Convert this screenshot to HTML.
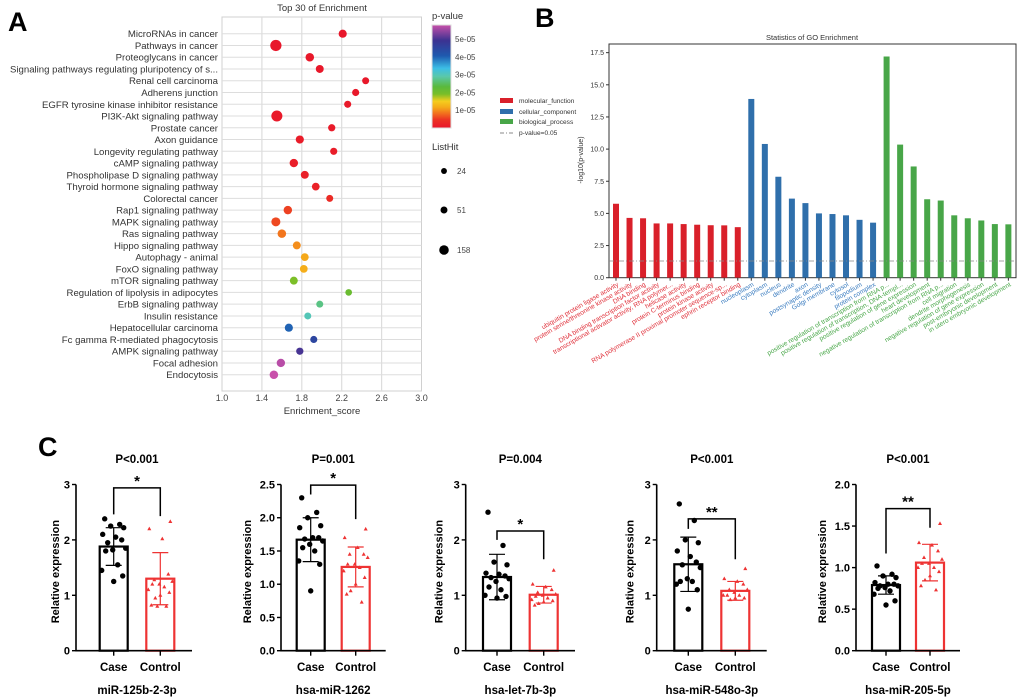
<!DOCTYPE html>
<html><head><meta charset="utf-8"><style>
html,body{margin:0;padding:0;background:#fff;}
svg{display:block;font-family:"Liberation Sans",Arial,sans-serif;}
</style></head><body>
<svg id="fig" width="1020" height="700" viewBox="0 0 1020 700" xmlns="http://www.w3.org/2000/svg">
<text x="8" y="31" font-size="27" font-weight="bold">A</text>
<text x="535" y="27" font-size="27" font-weight="bold">B</text>
<text x="38" y="456" font-size="27" font-weight="bold">C</text>
<g id="pa"></g>
<g id="pb"></g>
<g id="pc"></g>
</svg>
<script>
// ---------- Panel A data ----------
const keggTerms=["MicroRNAs in cancer","Pathways in cancer","Proteoglycans in cancer","Signaling pathways regulating pluripotency of s...","Renal cell carcinoma","Adherens junction","EGFR tyrosine kinase inhibitor resistance","PI3K-Akt signaling pathway","Prostate cancer","Axon guidance","Longevity regulating pathway","cAMP signaling pathway","Phospholipase D signaling pathway","Thyroid hormone signaling pathway","Colorectal cancer","Rap1 signaling pathway","MAPK signaling pathway","Ras signaling pathway","Hippo signaling pathway","Autophagy - animal","FoxO signaling pathway","mTOR signaling pathway","Regulation of lipolysis in adipocytes","ErbB signaling pathway","Insulin resistance","Hepatocellular carcinoma","Fc gamma R-mediated phagocytosis","AMPK signaling pathway","Focal adhesion","Endocytosis"];
const keggScore=[2.21,1.54,1.88,1.98,2.44,2.34,2.26,1.55,2.10,1.78,2.12,1.72,1.83,1.94,2.08,1.66,1.54,1.60,1.75,1.83,1.82,1.72,2.27,1.98,1.86,1.67,1.92,1.78,1.59,1.52];
const keggP=[0.1e-6,0.2e-6,0.3e-6,0.4e-6,0.3e-6,0.5e-6,0.6e-6,0.7e-6,0.8e-6,1.0e-6,1.2e-6,1.4e-6,1.6e-6,1.8e-6,3.5e-6,5.5e-6,6e-6,8.5e-6,10e-6,11.5e-6,12e-6,19e-6,21e-6,27e-6,30e-6,40e-6,45e-6,50e-6,57e-6,58e-6];
const keggHit=[50,158,60,45,25,28,27,150,30,50,28,58,45,40,25,58,75,60,45,42,40,45,20,25,25,50,27,30,55,60];
const pTicks=[1e-5,2e-5,3e-5,4e-5,5e-5];
const pTickLabels=["1e-05","2e-05","3e-05","4e-05","5e-05"];
const hitLegend=[24,51,158];
const scoreTicks=[1.0,1.4,1.8,2.2,2.6,3.0];
// ---------- Panel B data ----------
const goTerms=["ubiquitin protein ligase activity","protein serine/threonine kinase activity","DNA binding","DNA binding transcription factor activity","transcriptional activator activity, RNA polymer...","helicase activity","protein C-terminus binding","protein kinase activity","RNA polymerase II proximal promoter sequence-sp...","ephrin receptor binding","nucleoplasm","cytoplasm","nucleus","dendrite","axon","postsynaptic density","Golgi membrane","cytosol","filopodium","protein complex","positive regulation of transcription from RNA p...","positive regulation of transcription, DNA-templ...","positive regulation of gene expression","heart development","negative regulation of transcription from RNA p...","cell migration","dendrite morphogenesis","negative regulation of gene expression","post-embryonic development","in utero embryonic development"];
const goValues=[5.75,4.65,4.62,4.22,4.22,4.17,4.12,4.08,4.07,3.93,13.9,10.4,7.85,6.15,5.8,5.0,4.95,4.85,4.5,4.28,17.2,10.35,8.65,6.1,6.0,4.85,4.62,4.45,4.17,4.15];
const goCat=[0,0,0,0,0,0,0,0,0,0,1,1,1,1,1,1,1,1,1,1,2,2,2,2,2,2,2,2,2,2];
const goCatNames=["molecular_function","cellular_component","biological_process"];
const goTicks=[0,2.5,5,7.5,10,12.5,15,17.5];
const goThreshold=1.3;
// ---------- Panel C data ----------
const cGenes=["miR-125b-2-3p","hsa-miR-1262","hsa-let-7b-3p","hsa-miR-548o-3p","hsa-miR-205-5p"];
const cPlabels=["P\u003C0.001","P=0.001","P=0.004","P\u003C0.001","P\u003C0.001"];
const cStars=["*","*","*","**","**"];
const cYmax=[3,2.5,3,3,2];
const cTicks=[[0,1,2,3],[0,0.5,1.0,1.5,2.0,2.5],[0,1,2,3],[0,1,2,3],[0,0.5,1.0,1.5,2.0]];
const cTickLabels=[["0","1","2","3"],["0.0","0.5","1.0","1.5","2.0","2.5"],["0","1","2","3"],["0","1","2","3"],["0.0","0.5","1.0","1.5","2.0"]];
const caseMean=[1.88,1.67,1.33,1.56,0.79];
const caseSD=[0.34,0.33,0.41,0.49,0.11];
const ctrlMean=[1.30,1.26,1.01,1.08,1.06];
const ctrlSD=[0.47,0.30,0.15,0.17,0.22];
const bracketY=[2.94,2.49,2.16,2.38,1.71];
const legCase=[2.46,2.35,2.0,2.2,1.17];
const legCtrl=[2.43,1.98,1.65,1.65,1.48];
const casePts=[[2.38,2.28,2.25,2.22,2.1,2.05,2.0,1.95,1.85,1.82,1.8,1.55,1.45,1.35,1.25],
[2.3,2.08,2.0,1.88,1.85,1.7,1.7,1.68,1.65,1.6,1.55,1.5,1.35,1.3,0.9],
[2.5,1.9,1.6,1.55,1.4,1.38,1.35,1.32,1.3,1.25,1.15,1.1,1.0,0.98,0.95],
[2.65,2.35,2.0,1.95,1.8,1.7,1.6,1.55,1.5,1.3,1.25,1.25,1.2,1.1,0.75],
[1.02,0.92,0.9,0.88,0.82,0.8,0.8,0.78,0.78,0.76,0.75,0.72,0.68,0.6,0.55]];
const ctrlPts=[[2.33,2.2,2.02,1.38,1.28,1.25,1.2,1.2,1.15,1.1,1.05,1.0,0.95,0.82,0.8,0.8],
[1.83,1.7,1.55,1.45,1.45,1.4,1.3,1.3,1.25,1.2,1.1,1.0,0.9,0.85,0.73],
[1.45,1.2,1.15,1.1,1.05,1.02,1.0,0.98,0.95,0.92,0.9,0.88,0.85,0.82],
[1.48,1.3,1.25,1.2,1.1,1.1,1.05,1.0,1.0,1.0,0.95,0.95,0.92],
[1.53,1.3,1.27,1.2,1.12,1.1,1.05,1.05,1.0,1.0,0.95,0.9,0.85,0.78,0.73]];

const NS="http://www.w3.org/2000/svg";
function mk(parent,tag,attrs,text){const e=document.createElementNS(NS,tag);for(const k in attrs)e.setAttribute(k,attrs[k]);if(text!==undefined)e.textContent=text;parent.appendChild(e);return e;}

// ===== Panel A =====
(function(){
const g=document.getElementById('pa');
const x0=222,x1=421.5,yT=17,yB=391,r0=33.7,rs=11.76;
const xs=v=>x0+(v-1)*(x1-x0)/2;
const ys=i=>r0+i*rs;
const pmax=5.8e-5;
const stops=[[0,[232,22,43]],[0.08,[236,50,35]],[0.14,[242,110,30]],[0.2,[245,170,25]],[0.26,[245,205,30]],[0.33,[120,190,40]],[0.4,[90,185,60]],[0.5,[90,200,170]],[0.58,[60,190,230]],[0.7,[30,90,175]],[0.85,[60,50,145]],[1,[200,80,170]]];
function cmap(p){let t=Math.max(0,Math.min(1,p/pmax));for(let i=1;i<stops.length;i++){if(t<=stops[i][0]){const a=stops[i-1],b=stops[i];const f=(t-a[0])/(b[0]-a[0]);const c=a[1].map((v,k)=>Math.round(v+(b[1][k]-v)*f));return `rgb(${c[0]},${c[1]},${c[2]})`;}}return 'rgb(200,80,170)';}
const rad=h=>2.1+Math.sqrt(h)*0.28;
let e=mk(g,'rect',{x:x0,y:yT,width:x1-x0,height:yB-yT,fill:'#fff',stroke:'#d0d0d0','stroke-width':1});

scoreTicks.forEach(v=>{if(v>1&&v<3){const l=mk(g,'line',{x1:xs(v),x2:xs(v),y1:yT,y2:yB,stroke:'#dddddd','stroke-width':1.2});}
 const t=mk(g,'text',{x:xs(v),y:401,'font-size':9,'text-anchor':'middle',fill:'#444'},v.toFixed(1));});
keggTerms.forEach((n,i)=>{const l=mk(g,'line',{x1:x0,x2:x1,y1:ys(i),y2:ys(i),stroke:'#dddddd','stroke-width':1});
 const t=mk(g,'text',{x:218,y:ys(i)+3.5,'font-size':9.6,'text-anchor':'end',fill:'#333'},n);});
keggTerms.forEach((n,i)=>{const c=mk(g,'circle',{cx:xs(keggScore[i]),cy:ys(i),r:rad(keggHit[i]),fill:cmap(keggP[i])});});
let t=mk(g,'text',{x:322,y:11,'font-size':9.5,'text-anchor':'middle',fill:'#333'},'Top 30 of  Enrichment');
t=mk(g,'text',{x:322,y:414,'font-size':9.5,'text-anchor':'middle',fill:'#333'},'Enrichment_score');
t=mk(g,'text',{x:432,y:19,'font-size':9.5,fill:'#333'},'p-value');
const defs=mk(g,'defs',{});const lg=mk(defs,'linearGradient',{id:'cbg',x1:0,y1:1,x2:0,y2:0});
stops.forEach(s=>mk(lg,'stop',{offset:s[0],'stop-color':`rgb(${s[1].join(',')})`}));
const cbT=25,cbB=128,cy=p=>cbB-(p/pmax)*(cbB-cbT);
e=mk(g,'rect',{x:432,y:cbT,width:19,height:cbB-cbT,fill:'url(#cbg)',stroke:'#ddd'});
pTicks.forEach((p,i)=>{const tt=mk(g,'text',{x:455,y:cy(p)+3,'font-size':8,fill:'#444'},pTickLabels[i]);});
t=mk(g,'text',{x:432,y:150,'font-size':9.5,fill:'#333'},'ListHit');
const ly=[171,210,250];
hitLegend.forEach((h,i)=>{const c=mk(g,'circle',{cx:444,cy:ly[i],r:rad(h)*0.85,fill:'#000'});
 const tt=mk(g,'text',{x:457,y:ly[i]+3,'font-size':8,fill:'#444'},String(h));});
})();

// ===== Panel B =====
(function(){
const g=document.getElementById('pb');
const bx0=609,bx1=1016,byT=44,by0=277.7,pu=12.86;
const ys=v=>by0-v*pu;const xs=i=>616+i*13.53;
const col=['#d9202a','#2f6fab','#48a648'];const tcol=['#e0303a','#3a7cc0','#4aa84a'];
let e=mk(g,'rect',{x:bx0,y:byT,width:bx1-bx0,height:by0-byT,fill:'none',stroke:'#333','stroke-width':1});
let t=mk(g,'text',{x:812,y:40,'font-size':7.5,'text-anchor':'middle',fill:'#333'},'Statistics of GO Enrichment');
goTicks.forEach(v=>{mk(g,'line',{x1:bx0-3,x2:bx0,y1:ys(v),y2:ys(v),stroke:'#333'});const tt=mk(g,'text',{x:bx0-5,y:ys(v)+2.5,'font-size':7,'text-anchor':'end',fill:'#333'},v.toFixed(1));});
t=mk(g,'text',{x:0,y:0,'font-size':7,'text-anchor':'middle',fill:'#333',transform:'translate(583,160) rotate(-90)'},'-log10(p-value)');
goValues.forEach((v,i)=>{const r=mk(g,'rect',{x:xs(i)-3,y:ys(v),width:6,height:v*pu,fill:col[goCat[i]]});
 mk(g,'line',{x1:xs(i),x2:xs(i),y1:by0,y2:by0+3,stroke:'#333'});
 const tt=mk(g,'text',{x:0,y:0,'font-size':6.6,'text-anchor':'end',fill:tcol[goCat[i]],transform:`translate(${xs(i)+3},${by0+8}) rotate(-30)`},goTerms[i]);});
e=mk(g,'line',{x1:bx0,x2:bx1,y1:ys(goThreshold),y2:ys(goThreshold),stroke:'#888','stroke-width':0.8,'stroke-dasharray':'5,2,1,2'});
const lyy=[101,112,122];
goCatNames.forEach((n,i)=>{const r=mk(g,'rect',{x:500,y:lyy[i]-3,width:13,height:5,fill:col[i]});
 const tt=mk(g,'text',{x:519,y:lyy[i]+2,'font-size':6.6,fill:'#333'},n);});
mk(g,'line',{x1:500,x2:513,y1:133,y2:133,stroke:'#888','stroke-dasharray':'4,2,1,2'});
t=mk(g,'text',{x:519,y:135,'font-size':6.6,fill:'#333'},'p-value=0.05');
})();

// ===== Panel C =====
(function(){
const g=document.getElementById('pc');
const axX=[76,281,465.7,656.7,856],caseX=[113.7,310.7,497,688.3,886],ctrlX=[160.3,355.7,543.7,735.3,930],endX=[192,385.7,575,766.7,960];
const titleOff=[21,34,27,27,34];
const yT=484.5,y0=650.7;
const jit=[-9,6,-3,10,-11,2,8,-6,12,-1,-8,4,-12,9,0,-5];
cGenes.forEach((gn,k)=>{
 const ys=v=>y0-v*(y0-yT)/cYmax[k];
 const red='#ee3333';
 let b=mk(g,'rect',{x:caseX[k]-14,y:ys(caseMean[k]),width:28,height:y0-ys(caseMean[k]),fill:'#fff',stroke:'#000','stroke-width':2.2});
 b=mk(g,'rect',{x:ctrlX[k]-14,y:ys(ctrlMean[k]),width:28,height:y0-ys(ctrlMean[k]),fill:'#fff',stroke:red,'stroke-width':2.2});
 casePts[k].forEach((v,i)=>{const c=mk(g,'circle',{cx:caseX[k]+jit[i%jit.length],cy:ys(v),r:2.7,fill:'#000'});});
 ctrlPts[k].forEach((v,i)=>{const x=ctrlX[k]+jit[(i+3)%jit.length],y=ys(v);const p=mk(g,'path',{d:`M${x},${y-2.2}L${x+2},${y+1.4}L${x-2},${y+1.4}Z`,fill:red});});
 [[caseX[k],caseMean[k],caseSD[k],'#000'],[ctrlX[k],ctrlMean[k],ctrlSD[k],red]].forEach(a=>{
  const e=mk(g,'path',{d:`M${a[0]},${ys(a[1]+a[2])}V${ys(a[1]-a[2])}M${a[0]-8},${ys(a[1]+a[2])}h16M${a[0]-8},${ys(a[1]-a[2])}h16`,stroke:a[3],'stroke-width':1.2,fill:'none'});});
 let ax=mk(g,'path',{d:`M${axX[k]},${yT}V${y0}H${endX[k]}`,stroke:'#000','stroke-width':1.6,fill:'none'});
 cTicks[k].forEach((v,i)=>{mk(g,'line',{x1:axX[k]-4,x2:axX[k],y1:ys(v),y2:ys(v),stroke:'#000','stroke-width':1.4});
  const t=mk(g,'text',{x:axX[k]-6,y:ys(v)+4,'font-size':11,'font-weight':'bold','text-anchor':'end'},cTickLabels[k][i]);});
 [caseX[k],ctrlX[k]].forEach(x=>mk(g,'line',{x1:x,x2:x,y1:y0,y2:y0+5,stroke:'#000','stroke-width':1.4}));
 let t=mk(g,'text',{x:caseX[k],y:671,'font-size':11.5,'font-weight':'bold','text-anchor':'middle'},'Case');
 t=mk(g,'text',{x:ctrlX[k],y:671,'font-size':11.5,'font-weight':'bold','text-anchor':'middle'},'Control');
 t=mk(g,'text',{x:(caseX[k]+ctrlX[k])/2,y:694,'font-size':11.5,'font-weight':'bold','text-anchor':'middle'},gn);
 t=mk(g,'text',{x:(caseX[k]+ctrlX[k])/2,y:463,'font-size':11.5,'font-weight':'bold','text-anchor':'middle'},cPlabels[k]);
 t=mk(g,'text',{x:0,y:0,'font-size':11,'font-weight':'bold','text-anchor':'middle',transform:`translate(${axX[k]-titleOff[k]+4},${(yT+y0)/2+4}) rotate(-90)`},'Relative expression');
 const by=ys(bracketY[k]);
 const br=mk(g,'path',{d:`M${caseX[k]},${ys(legCase[k])}V${by}H${ctrlX[k]}V${ys(legCtrl[k])}`,stroke:'#000','stroke-width':1.5,fill:'none'});
 t=mk(g,'text',{x:(caseX[k]+ctrlX[k])/2,y:by-2,'font-size':15,'font-weight':'bold','text-anchor':'middle'},cStars[k]);
});
})();
</script>
</body></html>
